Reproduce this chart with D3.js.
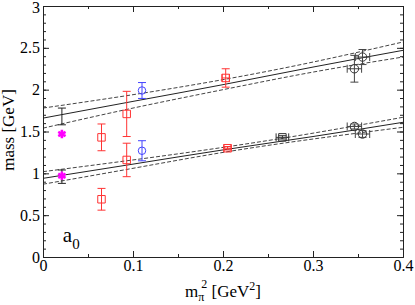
<!DOCTYPE html>
<html>
<head>
<meta charset="utf-8">
<script src="https://cdn.jsdelivr.net/npm/d3@7"></script>
<style>
  body { margin: 0; background: #fff; }
</style>
</head>
<body>
<svg id="graph"></svg>
<script>
// fit lines (solid) and error bands (dashed)
var fitX = [0, 0.1, 0.2, 0.3, 0.4];
var upFit = [1.66, 1.86, 2.06, 2.27, 2.47];
var upHi = [1.78, 1.94, 2.12, 2.33, 2.57];
var upLo = [1.54, 1.78, 2.00, 2.21, 2.39];
var lowFit = [0.94, 1.11, 1.28, 1.44, 1.61];
var lowHi = [1.02, 1.16, 1.31, 1.48, 1.67];
var lowLo = [0.87, 1.06, 1.25, 1.41, 1.55];

// red squares
var redX = [0.065, 0.065, 0.093, 0.093, 0.203, 0.205];
var redY = [1.43, 0.69, 1.71, 1.16, 2.14, 1.30];
var redErr = [0.16, 0.13, 0.27, 0.20, 0.11, 0.02];
var redXErr = [0, 0, 0, 0, 0.004, 0.004];
// blue circles
var blueX = [0.110, 0.110];
var blueY = [1.99, 1.27];
var blueErr = [0.095, 0.12];
// black squares
var sqX = [0.266];
var sqY = [1.43];
var sqErr = [0.02];
var sqXErr = [0.007];
// black circles
var circX = [0.346, 0.355, 0.346, 0.355];
var circY = [2.25, 2.39, 1.56, 1.47];
var circErr = [0.16, 0.09, 0.03, 0.04];
var circXErr = [0.008, 0.008, 0.008, 0.008];
// magenta stars
var starX = [0.021, 0.021];
var starY = [1.47, 0.97];
// extrapolated values (bars only)
var extX = [0.021, 0.021];
var extY = [1.68, 0.96];
var extErr = [0.10, 0.08];

var xTicks = [0, 0.1, 0.2, 0.3, 0.4];
var yTicks = [0, 0.5, 1, 1.5, 2, 2.5, 3];

var serif = "'Liberation Serif', 'Times New Roman', serif";

var svg = d3.select("#graph")
  .attr('width', 415)
  .attr('height', 305)

var margin = {top: 6, right: 12, bottom: 48, left: 43},
    width = 415 - margin.left - margin.right,
    height = 305 - margin.top - margin.bottom;

var x = d3.scaleLinear().domain([0, 0.4]).range([0, width]),
    y = d3.scaleLinear().domain([0, 3]).range([height, 0]);

var g = svg.append("g")
  .attr("transform", "translate(" + margin.left + "," + margin.top + ")")

var clip = g.append("clipPath").attr("id", "clip")
clip.append("rect").attr("width", width).attr("height", height)

var plot = g.append("g").attr("clip-path", "url(#clip)")

// fit curves
function drawLine(vals, dashed) {
  var line = d3.line()
    .x(function(d, i) { return x(fitX[i]); })
    .y(function(d) { return y(d); })
    .curve(d3.curveNatural)
  plot.append("path")
    .datum(vals)
    .attr("d", line)
    .attr("fill", "none")
    .attr("stroke", dashed ? "#444" : "#222")
    .attr("stroke-width", 1)
    .attr("stroke-dasharray", dashed ? "4,2" : null)
}
drawLine(upFit, false); drawLine(upHi, true); drawLine(upLo, true);
drawLine(lowFit, false); drawLine(lowHi, true); drawLine(lowLo, true);

// error bars
function errBars(xs, ys, errs, xerrs, color) {
  xs.forEach(function(xv, i) {
    var cx = x(xv), cy = y(ys[i]);
    var top = y(ys[i] + errs[i]), bot = y(ys[i] - errs[i]);
    var eb = plot.append("g").attr("stroke", color).attr("stroke-width", 1)
    eb.append("line").attr("x1", cx).attr("x2", cx).attr("y1", top).attr("y2", bot)
    eb.append("line").attr("x1", cx - 4).attr("x2", cx + 4).attr("y1", top).attr("y2", top)
    eb.append("line").attr("x1", cx - 4).attr("x2", cx + 4).attr("y1", bot).attr("y2", bot)
    if (xerrs && xerrs[i]) {
      var l = x(xv - xerrs[i]), r = x(xv + xerrs[i]);
      eb.append("line").attr("x1", l).attr("x2", r).attr("y1", cy).attr("y2", cy)
      eb.append("line").attr("x1", l).attr("x2", l).attr("y1", cy - 4).attr("y2", cy + 4)
      eb.append("line").attr("x1", r).attr("x2", r).attr("y1", cy - 4).attr("y2", cy + 4)
    }
  })
}
errBars(extX, extY, extErr, null, "#222")
errBars(redX, redY, redErr, redXErr, "#f33")
errBars(blueX, blueY, blueErr, null, "#44f")
errBars(sqX, sqY, sqErr, sqXErr, "#333")
errBars(circX, circY, circErr, circXErr, "#444")

// markers
function markers(xs, ys, type, color, size) {
  plot.selectAll(null)
    .data(xs)
    .enter().append("path")
    .attr("transform", function(d, i) { return "translate(" + x(d) + "," + y(ys[i]) + ")"; })
    .attr("d", d3.symbol().type(type).size(size))
    .attr("fill", "none")
    .attr("stroke", color)
    .attr("stroke-width", 1)
}
markers(redX, redY, d3.symbolSquare, "#f33", 56)
markers(blueX, blueY, d3.symbolCircle, "#44f", 44)
markers(sqX, sqY, d3.symbolSquare, "#333", 56)
markers(circX, circY, d3.symbolCircle, "#333", 56)

plot.selectAll(".star")
  .data(starX)
  .enter().append("path")
  .attr("transform", function(d, i) { return "translate(" + x(d) + "," + y(starY[i]) + ")"; })
  .attr("d", d3.symbol().type(d3.symbolAsterisk).size(50))
  .attr("fill", "none")
  .attr("stroke", "#f0f")
  .attr("stroke-width", 2.6)

// axes, ticks pointing inward on all sides
function styleAxis(sel) {
  sel.attr("font-family", serif).attr("font-size", 16)
  sel.selectAll("path").attr("stroke", "#222")
  sel.selectAll("line").attr("stroke", "#222")
  sel.selectAll("text").attr("fill", "#000")
}
var fmt = d3.format("")
g.append("g").attr("transform", "translate(0," + height + ")")
  .call(d3.axisBottom(x).tickValues(xTicks).tickFormat(fmt).tickSize(-6).tickPadding(3).tickSizeOuter(0))
  .call(styleAxis)
g.append("g").attr("transform", "translate(0," + height + ")")
  .call(d3.axisBottom(x).ticks(8).tickFormat("").tickSize(-3).tickSizeOuter(0))
  .call(styleAxis)
g.append("g")
  .call(d3.axisTop(x).tickValues(xTicks).tickFormat("").tickSize(-6).tickSizeOuter(0))
  .call(styleAxis)
g.append("g")
  .call(d3.axisTop(x).ticks(8).tickFormat("").tickSize(-3).tickSizeOuter(0))
  .call(styleAxis)
g.append("g")
  .call(d3.axisLeft(y).tickValues(yTicks).tickFormat(fmt).tickSize(-6).tickPadding(3).tickSizeOuter(0))
  .call(styleAxis)
g.append("g")
  .call(d3.axisLeft(y).ticks(30).tickFormat("").tickSize(-3).tickSizeOuter(0))
  .call(styleAxis)
g.append("g").attr("transform", "translate(" + width + ",0)")
  .call(d3.axisRight(y).tickValues(yTicks).tickFormat("").tickSize(-6).tickSizeOuter(0))
  .call(styleAxis)
g.append("g").attr("transform", "translate(" + width + ",0)")
  .call(d3.axisRight(y).ticks(30).tickFormat("").tickSize(-3).tickSizeOuter(0))
  .call(styleAxis)

// keep the top "3" just inside the window
g.selectAll("text").filter(function() { return this.textContent === "3"; })
  .attr("dy", "0.4em")

// axis titles
var xl = svg.append("text")
  .attr("x", 223).attr("y", 297)
  .attr("text-anchor", "middle")
  .attr("font-family", serif)
  .attr("font-size", 17)
xl.append("tspan").text("m")
xl.append("tspan").text("π").attr("dy", 4).attr("font-size", 12)
xl.append("tspan").text("2").attr("dy", -13).attr("dx", -3).attr("font-size", 12)
xl.append("tspan").text(" [GeV").attr("dy", 9)
xl.append("tspan").text("2").attr("dy", -7).attr("font-size", 12)
xl.append("tspan").text("]").attr("dy", 7)

svg.append("text")
  .attr("transform", "translate(14,130) rotate(-90)")
  .attr("text-anchor", "middle")
  .attr("font-family", serif)
  .attr("font-size", 17)
  .text("mass [GeV]")

// panel label
var pl = g.append("text")
  .attr("x", x(0.022)).attr("y", y(0.18))
  .attr("font-family", serif)
  .attr("font-size", 21)
pl.append("tspan").text("a")
pl.append("tspan").text("0").attr("dy", 7).attr("font-size", 15)
</script>
</body>
</html>
